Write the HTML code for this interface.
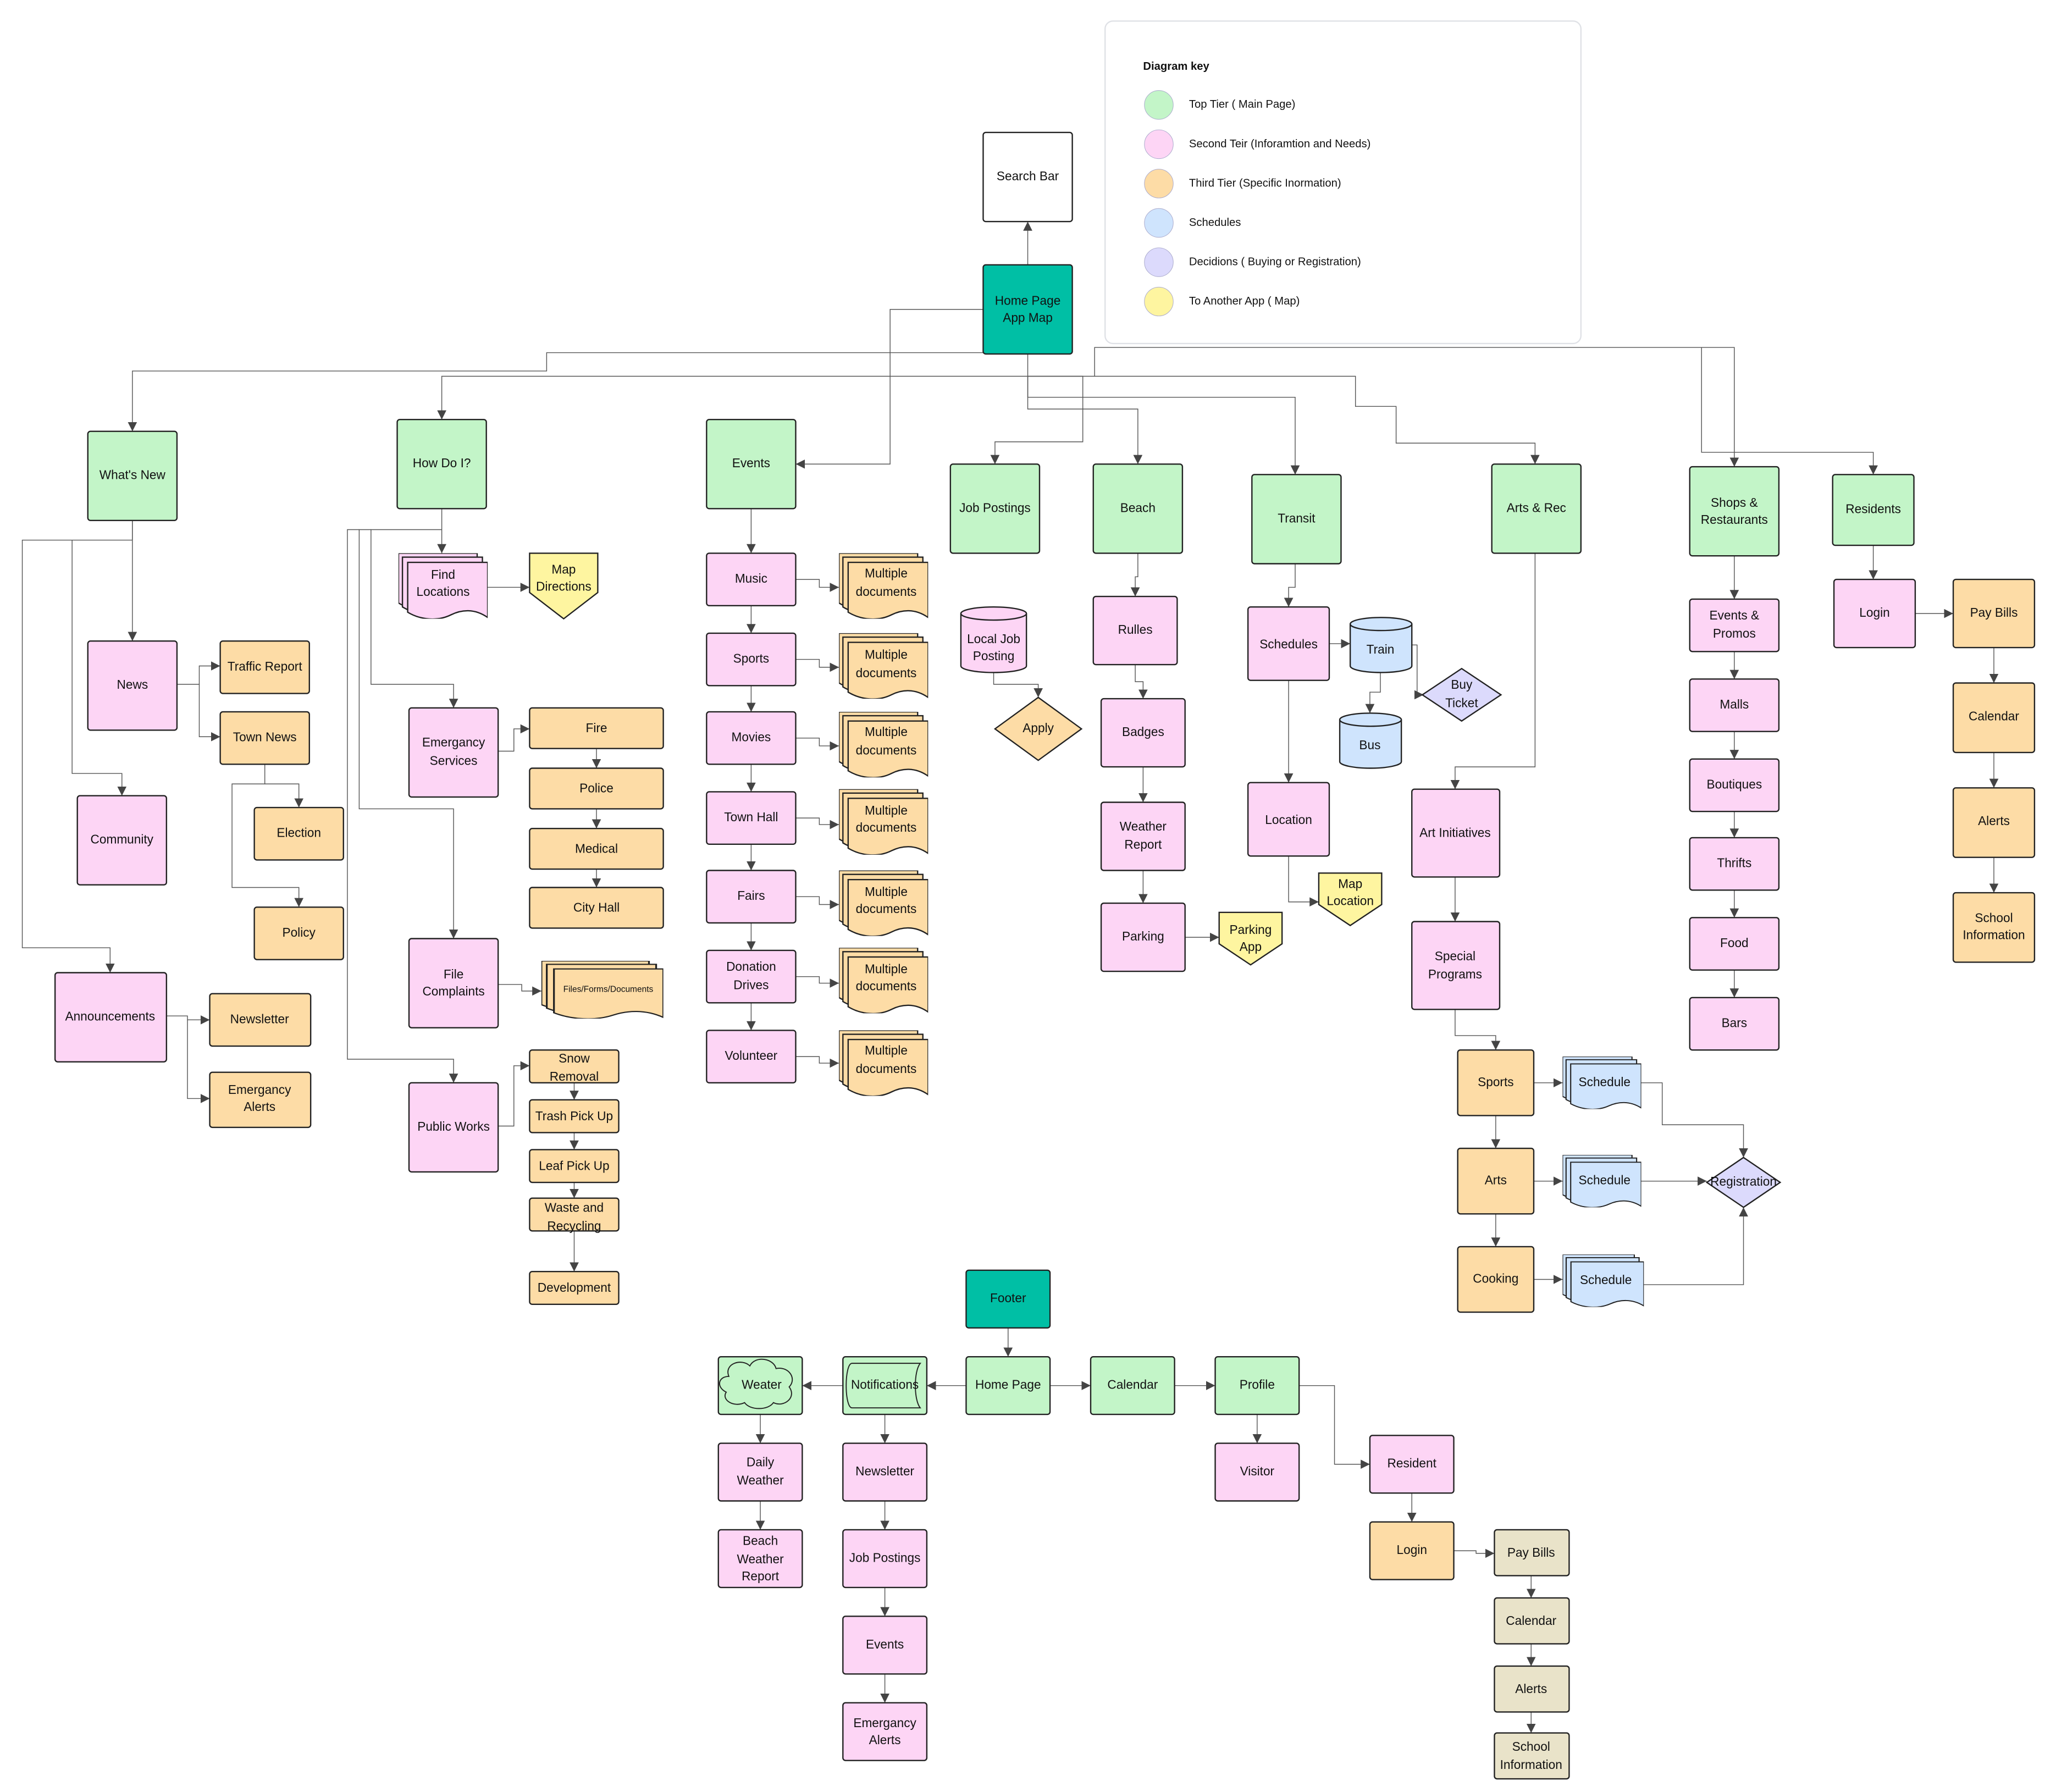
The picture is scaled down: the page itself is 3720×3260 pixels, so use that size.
<!DOCTYPE html>
<html><head><meta charset="utf-8"><style>
html,body{margin:0;padding:0;background:#fff}
svg{display:block}
text{font-family:"Liberation Sans",sans-serif;font-size:9.5px;fill:#111;text-anchor:middle;dominant-baseline:middle}
.n{stroke:#222;stroke-width:1}
.c{fill:none;stroke:#555;stroke-width:0.6}
.G{fill:#c3f5c8}.P{fill:#fdd5f5}.O{fill:#fddca6}.B{fill:#cfe4fd}.V{fill:#dcdafc}.Y{fill:#fef5a0}.T{fill:#00bfa5}.W{fill:#fff}.E{fill:#e9e3c9}
</style></head><body>
<svg width="3720" height="3260" viewBox="0 0 1560 1367" xmlns="http://www.w3.org/2000/svg">
<defs>
<marker id="a" viewBox="0 0 10 10" refX="10" refY="5" markerWidth="7" markerHeight="7" markerUnits="userSpaceOnUse" orient="auto"><path d="M0 0L10 5L0 10z" fill="#444"/></marker>
<symbol id="docs" viewBox="0 0 68 50" preserveAspectRatio="none">
<path d="M0 0H60V40C50 34 40 36 32 40C22 45 10 44 0 38Z" stroke="#222" stroke-width="1"/>
<path d="M3 3H64V43C54 37 44 39 36 43C26 48 13 47 3 41Z" stroke="#222" stroke-width="1"/>
<path d="M7 7H68V49C58 42 48 43 40 47C30 52 17 51 7 45Z" stroke="#222" stroke-width="1"/>
</symbol>
</defs>

<!-- legend -->
<rect x="843" y="16" width="363" height="246" rx="6" fill="#fff" stroke="#dfe1e6" stroke-width="1"/>
<text x="872" y="51" style="text-anchor:start;font-weight:bold;font-size:8.5px">Diagram key</text>
<circle cx="884" cy="80" r="11" fill="#c3f5c8" stroke="#aac" stroke-width="0.4"/><text x="907" y="80" style="text-anchor:start;font-size:8.5px">Top Tier ( Main Page)</text>
<circle cx="884" cy="110" r="11" fill="#fdd5f5" stroke="#aac" stroke-width="0.4"/><text x="907" y="110" style="text-anchor:start;font-size:8.5px">Second Teir (Inforamtion and Needs)</text>
<circle cx="884" cy="140" r="11" fill="#fddca6" stroke="#aac" stroke-width="0.4"/><text x="907" y="140" style="text-anchor:start;font-size:8.5px">Third Tier (Specific Inormation)</text>
<circle cx="884" cy="170" r="11" fill="#cfe4fd" stroke="#aac" stroke-width="0.4"/><text x="907" y="170" style="text-anchor:start;font-size:8.5px">Schedules</text>
<circle cx="884" cy="200" r="11" fill="#dcdafc" stroke="#aac" stroke-width="0.4"/><text x="907" y="200" style="text-anchor:start;font-size:8.5px">Decidions ( Buying or Registration)</text>
<circle cx="884" cy="230" r="11" fill="#fef5a0" stroke="#aac" stroke-width="0.4"/><text x="907" y="230" style="text-anchor:start;font-size:8.5px">To Another App ( Map)</text>

<!-- connectors -->
<g class="c">
<path d="M784 202V169" marker-end="url(#a)"/>
<path d="M750 236H679V354H607" marker-end="url(#a)"/>
<path d="M750 269H417V283H101V329" marker-end="url(#a)"/>
<path d="M784 270V287H337V320" marker-end="url(#a)"/>
<path d="M784 287H1034V310H1065V338H1171V354" marker-end="url(#a)"/>
<path d="M784 287H826V337H759V354" marker-end="url(#a)"/>
<path d="M784 287V312H868V354" marker-end="url(#a)"/>
<path d="M784 287V303H988V362" marker-end="url(#a)"/>
<path d="M835 287V265H1323V356" marker-end="url(#a)"/>
<path d="M1298 265V345H1429V362" marker-end="url(#a)"/>
<!-- what's new -->
<path d="M101 397V489" marker-end="url(#a)"/>
<path d="M101 397V412H17V723H84V742" marker-end="url(#a)"/>
<path d="M55 412V590H93V607" marker-end="url(#a)"/>
<path d="M135 522H152V508H168" marker-end="url(#a)"/>
<path d="M152 522V562H168" marker-end="url(#a)"/>
<path d="M202 583V598H228V616" marker-end="url(#a)"/>
<path d="M202 598H177V677H228V692" marker-end="url(#a)"/>
<path d="M127 775H143V778H160" marker-end="url(#a)"/>
<path d="M143 778V838H160" marker-end="url(#a)"/>
<!-- how do i -->
<path d="M337 388V422" marker-end="url(#a)"/>
<path d="M337 404H283V522H346V540" marker-end="url(#a)"/>
<path d="M283 404H274V617H346V716" marker-end="url(#a)"/>
<path d="M274 404H265V808H346V826" marker-end="url(#a)"/>
<path d="M372 448H404" marker-end="url(#a)"/>
<path d="M380 573H392V556H404" marker-end="url(#a)"/>
<path d="M455 571V586" marker-end="url(#a)"/>
<path d="M455 617V632" marker-end="url(#a)"/>
<path d="M455 663V677" marker-end="url(#a)"/>
<path d="M380 751H398V756H413" marker-end="url(#a)"/>
<path d="M380 859H392V813H404" marker-end="url(#a)"/>
<path d="M438 826V839" marker-end="url(#a)"/>
<path d="M438 864V877" marker-end="url(#a)"/>
<path d="M438 902V914" marker-end="url(#a)"/>
<path d="M438 939V970" marker-end="url(#a)"/>
<!-- events -->
<path d="M573 388V422" marker-end="url(#a)"/>
<path d="M573 462V483" marker-end="url(#a)"/>
<path d="M573 523V543" marker-end="url(#a)"/>
<path d="M573 583V604" marker-end="url(#a)"/>
<path d="M573 644V664" marker-end="url(#a)"/>
<path d="M573 704V725" marker-end="url(#a)"/>
<path d="M573 765V786" marker-end="url(#a)"/>
<path d="M607 442H625V448H640" marker-end="url(#a)"/>
<path d="M607 503H625V509H640" marker-end="url(#a)"/>
<path d="M607 563H625V569H640" marker-end="url(#a)"/>
<path d="M607 624H625V629H640" marker-end="url(#a)"/>
<path d="M607 684H625V690H640" marker-end="url(#a)"/>
<path d="M607 745H625V750H640" marker-end="url(#a)"/>
<path d="M607 806H625V811H640" marker-end="url(#a)"/>
<!-- job -->
<path d="M758 513V522H792V532" marker-end="url(#a)"/>
<!-- beach -->
<path d="M868 422V440H866V455" marker-end="url(#a)"/>
<path d="M866 507V520H872V533" marker-end="url(#a)"/>
<path d="M872 585V612" marker-end="url(#a)"/>
<path d="M872 664V689" marker-end="url(#a)"/>
<path d="M904 715H930" marker-end="url(#a)"/>
<!-- transit -->
<path d="M988 430V448H983V463" marker-end="url(#a)"/>
<path d="M1014 491H1030" marker-end="url(#a)"/>
<path d="M1053 513V528H1045V544" marker-end="url(#a)"/>
<path d="M1077 492H1081V530H1086" marker-end="url(#a)"/>
<path d="M983 519V597" marker-end="url(#a)"/>
<path d="M983 653V688H1006" marker-end="url(#a)"/>
<!-- arts -->
<path d="M1171 422V585H1110V602" marker-end="url(#a)"/>
<path d="M1110 669V703" marker-end="url(#a)"/>
<path d="M1110 770V790H1141V801" marker-end="url(#a)"/>
<path d="M1141 851V876" marker-end="url(#a)"/>
<path d="M1141 926V951" marker-end="url(#a)"/>
<path d="M1170 826H1192" marker-end="url(#a)"/>
<path d="M1170 901H1192" marker-end="url(#a)"/>
<path d="M1170 976H1192" marker-end="url(#a)"/>
<path d="M1250 826H1268V858H1330V883" marker-end="url(#a)"/>
<path d="M1250 901H1302" marker-end="url(#a)"/>
<path d="M1253 980H1330V921" marker-end="url(#a)"/>
<!-- shops -->
<path d="M1323 424V457" marker-end="url(#a)"/>
<path d="M1323 497V518" marker-end="url(#a)"/>
<path d="M1323 558V579" marker-end="url(#a)"/>
<path d="M1323 619V639" marker-end="url(#a)"/>
<path d="M1323 679V700" marker-end="url(#a)"/>
<path d="M1323 740V761" marker-end="url(#a)"/>
<!-- residents -->
<path d="M1429 416V442" marker-end="url(#a)"/>
<path d="M1461 468H1490" marker-end="url(#a)"/>
<path d="M1521 494V521" marker-end="url(#a)"/>
<path d="M1521 574V601" marker-end="url(#a)"/>
<path d="M1521 654V681" marker-end="url(#a)"/>
<!-- footer -->
<path d="M769 1013V1035" marker-end="url(#a)"/>
<path d="M737 1057H707" marker-end="url(#a)"/>
<path d="M643 1057H612" marker-end="url(#a)"/>
<path d="M801 1057H832" marker-end="url(#a)"/>
<path d="M896 1057H927" marker-end="url(#a)"/>
<path d="M959 1079V1101" marker-end="url(#a)"/>
<path d="M991 1057H1018V1117H1045" marker-end="url(#a)"/>
<path d="M580 1079V1101" marker-end="url(#a)"/>
<path d="M580 1145V1167" marker-end="url(#a)"/>
<path d="M675 1079V1101" marker-end="url(#a)"/>
<path d="M675 1145V1167" marker-end="url(#a)"/>
<path d="M675 1211V1233" marker-end="url(#a)"/>
<path d="M675 1277V1299" marker-end="url(#a)"/>
<path d="M1077 1139V1161" marker-end="url(#a)"/>
<path d="M1109 1183H1126V1185H1140" marker-end="url(#a)"/>
<path d="M1168 1202V1219" marker-end="url(#a)"/>
<path d="M1168 1254V1271" marker-end="url(#a)"/>
<path d="M1168 1306V1322" marker-end="url(#a)"/>
</g>

<!-- top -->
<rect class="n W" x="750" y="101" width="68" height="68" rx="2"/><text x="784" y="135">Search Bar</text>
<rect class="n T" x="750" y="202" width="68" height="68" rx="2"/><text x="784" y="230">Home Page</text><text x="784" y="243">App Map</text>

<!-- tier 1 -->
<rect class="n G" x="67" y="329" width="68" height="68" rx="2"/><text x="101" y="363">What's New</text>
<rect class="n G" x="303" y="320" width="68" height="68" rx="2"/><text x="337" y="354">How Do I?</text>
<rect class="n G" x="539" y="320" width="68" height="68" rx="2"/><text x="573" y="354">Events</text>
<rect class="n G" x="725" y="354" width="68" height="68" rx="2"/><text x="759" y="388">Job Postings</text>
<rect class="n G" x="834" y="354" width="68" height="68" rx="2"/><text x="868" y="388">Beach</text>
<rect class="n G" x="955" y="362" width="68" height="68" rx="2"/><text x="989" y="396">Transit</text>
<rect class="n G" x="1138" y="354" width="68" height="68" rx="2"/><text x="1172" y="388">Arts &amp; Rec</text>
<rect class="n G" x="1289" y="356" width="68" height="68" rx="2"/><text x="1323" y="384">Shops &amp;</text><text x="1323" y="397">Restaurants</text>
<rect class="n G" x="1398" y="362" width="62" height="54" rx="2"/><text x="1429" y="389">Residents</text>

<!-- what's new -->
<rect class="n P" x="67" y="489" width="68" height="68" rx="2"/><text x="101" y="523">News</text>
<rect class="n O" x="168" y="489" width="68" height="40" rx="2"/><text x="202" y="509">Traffic Report</text>
<rect class="n O" x="168" y="543" width="68" height="40" rx="2"/><text x="202" y="563">Town News</text>
<rect class="n O" x="194" y="616" width="68" height="40" rx="2"/><text x="228" y="636">Election</text>
<rect class="n O" x="194" y="692" width="68" height="40" rx="2"/><text x="228" y="712">Policy</text>
<rect class="n P" x="59" y="607" width="68" height="68" rx="2"/><text x="93" y="641">Community</text>
<rect class="n P" x="42" y="742" width="85" height="68" rx="2"/><text x="84" y="776">Announcements</text>
<rect class="n O" x="160" y="758" width="77" height="40" rx="2"/><text x="198" y="778">Newsletter</text>
<rect class="n O" x="160" y="818" width="77" height="42" rx="2"/><text x="198" y="832">Emergancy</text><text x="198" y="845">Alerts</text>

<!-- how do i -->
<use href="#docs" x="304" y="422" width="68" height="50" class="P"/><text x="338" y="439">Find</text><text x="338" y="452">Locations</text>
<path class="n Y" d="M404 422H456V452L430 472L404 452Z"/><text x="430" y="435">Map</text><text x="430" y="448">Directions</text>
<rect class="n P" x="312" y="540" width="68" height="68" rx="2"/><text x="346" y="567">Emergancy</text><text x="346" y="581">Services</text>
<rect class="n O" x="404" y="540" width="102" height="31" rx="2"/><text x="455" y="556">Fire</text>
<rect class="n O" x="404" y="586" width="102" height="31" rx="2"/><text x="455" y="602">Police</text>
<rect class="n O" x="404" y="632" width="102" height="31" rx="2"/><text x="455" y="648">Medical</text>
<rect class="n O" x="404" y="677" width="102" height="31" rx="2"/><text x="455" y="693">City Hall</text>
<rect class="n P" x="312" y="716" width="68" height="68" rx="2"/><text x="346" y="744">File</text><text x="346" y="757">Complaints</text>
<use href="#docs" x="413" y="733" width="93" height="44" class="O"/><text x="464" y="755" style="font-size:6.5px">Files/Forms/Documents</text>
<rect class="n P" x="312" y="826" width="68" height="68" rx="2"/><text x="346" y="860">Public Works</text>
<rect class="n O" x="404" y="801" width="68" height="25" rx="2"/><text x="438" y="808">Snow</text><text x="438" y="822">Removal</text>
<rect class="n O" x="404" y="839" width="68" height="25" rx="2"/><text x="438" y="852">Trash Pick Up</text>
<rect class="n O" x="404" y="877" width="68" height="25" rx="2"/><text x="438" y="890">Leaf Pick Up</text>
<rect class="n O" x="404" y="914" width="68" height="25" rx="2"/><text x="438" y="922">Waste and</text><text x="438" y="936">Recycling</text>
<rect class="n O" x="404" y="970" width="68" height="25" rx="2"/><text x="438" y="983">Development</text>

<!-- events -->
<rect class="n P" x="539" y="422" width="68" height="40" rx="2"/><text x="573" y="442">Music</text>
<rect class="n P" x="539" y="483" width="68" height="40" rx="2"/><text x="573" y="503">Sports</text>
<rect class="n P" x="539" y="543" width="68" height="40" rx="2"/><text x="573" y="563">Movies</text>
<rect class="n P" x="539" y="604" width="68" height="40" rx="2"/><text x="573" y="624">Town Hall</text>
<rect class="n P" x="539" y="664" width="68" height="40" rx="2"/><text x="573" y="684">Fairs</text>
<rect class="n P" x="539" y="725" width="68" height="40" rx="2"/><text x="573" y="738">Donation</text><text x="573" y="752">Drives</text>
<rect class="n P" x="539" y="786" width="68" height="40" rx="2"/><text x="573" y="806">Volunteer</text>
<use href="#docs" x="640" y="422" width="68" height="50" class="O"/><text x="676" y="438">Multiple</text><text x="676" y="452">documents</text>
<use href="#docs" x="640" y="483" width="68" height="50" class="O"/><text x="676" y="500">Multiple</text><text x="676" y="514">documents</text>
<use href="#docs" x="640" y="543" width="68" height="50" class="O"/><text x="676" y="559">Multiple</text><text x="676" y="573">documents</text>
<use href="#docs" x="640" y="602" width="68" height="50" class="O"/><text x="676" y="619">Multiple</text><text x="676" y="632">documents</text>
<use href="#docs" x="640" y="664" width="68" height="50" class="O"/><text x="676" y="681">Multiple</text><text x="676" y="694">documents</text>
<use href="#docs" x="640" y="723" width="68" height="50" class="O"/><text x="676" y="740">Multiple</text><text x="676" y="753">documents</text>
<use href="#docs" x="640" y="786" width="68" height="50" class="O"/><text x="676" y="802">Multiple</text><text x="676" y="816">documents</text>

<!-- job -->
<path class="n P" d="M733 468V508A25 5 0 0 0 783 508V468A25 5 0 0 0 733 468Z"/><path d="M733 468A25 5 0 0 0 783 468" fill="none" stroke="#222" stroke-width="1"/>
<text x="758" y="488">Local Job</text><text x="758" y="501">Posting</text>
<path class="n O" d="M792 532L825 556L792 580L759 556Z"/><text x="792" y="556">Apply</text>

<!-- beach -->
<rect class="n P" x="834" y="455" width="64" height="52" rx="2"/><text x="866" y="481">Rulles</text>
<rect class="n P" x="840" y="533" width="64" height="52" rx="2"/><text x="872" y="559">Badges</text>
<rect class="n P" x="840" y="612" width="64" height="52" rx="2"/><text x="872" y="631">Weather</text><text x="872" y="645">Report</text>
<rect class="n P" x="840" y="689" width="64" height="52" rx="2"/><text x="872" y="715">Parking</text>
<path class="n Y" d="M930 696H978V720L954 736L930 720Z"/><text x="954" y="710">Parking</text><text x="954" y="723">App</text>

<!-- transit -->
<rect class="n P" x="952" y="463" width="62" height="56" rx="2"/><text x="983" y="492">Schedules</text>
<path class="n B" d="M1030 476V508A23.5 5 0 0 0 1077 508V476A23.5 5 0 0 0 1030 476Z"/><path d="M1030 476A23.5 5 0 0 0 1077 476" fill="none" stroke="#222" stroke-width="1"/><text x="1053" y="496">Train</text>
<path class="n B" d="M1022 549V581A23.5 5 0 0 0 1069 581V549A23.5 5 0 0 0 1022 549Z"/><path d="M1022 549A23.5 5 0 0 0 1069 549" fill="none" stroke="#222" stroke-width="1"/><text x="1045" y="569">Bus</text>
<path class="n V" d="M1115 510L1145 530L1115 550L1085 530Z"/><text x="1115" y="523">Buy</text><text x="1115" y="537">Ticket</text>
<rect class="n P" x="952" y="597" width="62" height="56" rx="2"/><text x="983" y="626">Location</text>
<path class="n Y" d="M1006 666H1054V690L1030 706L1006 690Z"/><text x="1030" y="675">Map</text><text x="1030" y="688">Location</text>

<!-- arts -->
<rect class="n P" x="1077" y="602" width="67" height="67" rx="2"/><text x="1110" y="636">Art Initiatives</text>
<rect class="n P" x="1077" y="703" width="67" height="67" rx="2"/><text x="1110" y="730">Special</text><text x="1110" y="744">Programs</text>
<rect class="n O" x="1112" y="801" width="58" height="50" rx="2"/><text x="1141" y="826">Sports</text>
<rect class="n O" x="1112" y="876" width="58" height="50" rx="2"/><text x="1141" y="901">Arts</text>
<rect class="n O" x="1112" y="951" width="58" height="50" rx="2"/><text x="1141" y="976">Cooking</text>
<use href="#docs" x="1192" y="806" width="60" height="40" class="B"/><text x="1224" y="826">Schedule</text>
<use href="#docs" x="1192" y="881" width="60" height="40" class="B"/><text x="1224" y="901">Schedule</text>
<use href="#docs" x="1192" y="957" width="62" height="40" class="B"/><text x="1225" y="977">Schedule</text>
<path class="n V" d="M1330 883L1358 902L1330 921L1302 902Z"/><text x="1330" y="902">Registration</text>

<!-- shops -->
<rect class="n P" x="1289" y="457" width="68" height="40" rx="2"/><text x="1323" y="470">Events &amp;</text><text x="1323" y="484">Promos</text>
<rect class="n P" x="1289" y="518" width="68" height="40" rx="2"/><text x="1323" y="538">Malls</text>
<rect class="n P" x="1289" y="579" width="68" height="40" rx="2"/><text x="1323" y="599">Boutiques</text>
<rect class="n P" x="1289" y="639" width="68" height="40" rx="2"/><text x="1323" y="659">Thrifts</text>
<rect class="n P" x="1289" y="700" width="68" height="40" rx="2"/><text x="1323" y="720">Food</text>
<rect class="n P" x="1289" y="761" width="68" height="40" rx="2"/><text x="1323" y="781">Bars</text>

<!-- residents -->
<rect class="n P" x="1399" y="442" width="62" height="52" rx="2"/><text x="1430" y="468">Login</text>
<rect class="n O" x="1490" y="442" width="62" height="52" rx="2"/><text x="1521" y="468">Pay Bills</text>
<rect class="n O" x="1490" y="521" width="62" height="53" rx="2"/><text x="1521" y="547">Calendar</text>
<rect class="n O" x="1490" y="601" width="62" height="53" rx="2"/><text x="1521" y="627">Alerts</text>
<rect class="n O" x="1490" y="681" width="62" height="53" rx="2"/><text x="1521" y="701">School</text><text x="1521" y="714">Information</text>

<!-- footer -->
<rect class="n T" x="737" y="969" width="64" height="44" rx="2"/><text x="769" y="991">Footer</text>
<rect class="n G" x="737" y="1035" width="64" height="44" rx="2"/><text x="769" y="1057">Home Page</text>
<rect class="n G" x="832" y="1035" width="64" height="44" rx="2"/><text x="864" y="1057">Calendar</text>
<rect class="n G" x="927" y="1035" width="64" height="44" rx="2"/><text x="959" y="1057">Profile</text>
<rect class="n G" x="643" y="1035" width="64" height="44" rx="2"/>
<path d="M650 1040H702C697 1046 697 1068 702 1074H650C644 1074 644 1040 650 1040Z" fill="#c3f5c8" stroke="#222" stroke-width="0.8"/><text x="675" y="1057">Notifications</text>
<rect class="n G" x="548" y="1035" width="64" height="44" rx="2"/>
<path d="M556 1050C552 1040 566 1036 572 1042C576 1034 590 1036 592 1044C602 1042 608 1052 602 1058C608 1066 598 1074 590 1070C586 1076 572 1076 568 1070C560 1074 550 1068 554 1062C546 1058 548 1050 556 1050Z" fill="#c3f5c8" stroke="#222" stroke-width="0.8"/><text x="581" y="1057">Weater</text>
<rect class="n P" x="548" y="1101" width="64" height="44" rx="2"/><text x="580" y="1116">Daily</text><text x="580" y="1130">Weather</text>
<rect class="n P" x="548" y="1167" width="64" height="44" rx="2"/><text x="580" y="1176">Beach</text><text x="580" y="1190">Weather</text><text x="580" y="1203">Report</text>
<rect class="n P" x="643" y="1101" width="64" height="44" rx="2"/><text x="675" y="1123">Newsletter</text>
<rect class="n P" x="643" y="1167" width="64" height="44" rx="2"/><text x="675" y="1189">Job Postings</text>
<rect class="n P" x="643" y="1233" width="64" height="44" rx="2"/><text x="675" y="1255">Events</text>
<rect class="n P" x="643" y="1299" width="64" height="44" rx="2"/><text x="675" y="1315">Emergancy</text><text x="675" y="1328">Alerts</text>
<rect class="n P" x="927" y="1101" width="64" height="44" rx="2"/><text x="959" y="1123">Visitor</text>
<rect class="n P" x="1045" y="1095" width="64" height="44" rx="2"/><text x="1077" y="1117">Resident</text>
<rect class="n O" x="1045" y="1161" width="64" height="44" rx="2"/><text x="1077" y="1183">Login</text>
<rect class="n E" x="1140" y="1167" width="57" height="35" rx="2"/><text x="1168" y="1185">Pay Bills</text>
<rect class="n E" x="1140" y="1219" width="57" height="35" rx="2"/><text x="1168" y="1237">Calendar</text>
<rect class="n E" x="1140" y="1271" width="57" height="35" rx="2"/><text x="1168" y="1289">Alerts</text>
<rect class="n E" x="1140" y="1322" width="57" height="35" rx="2"/><text x="1168" y="1333">School</text><text x="1168" y="1347">Information</text>
</svg>
</body></html>
